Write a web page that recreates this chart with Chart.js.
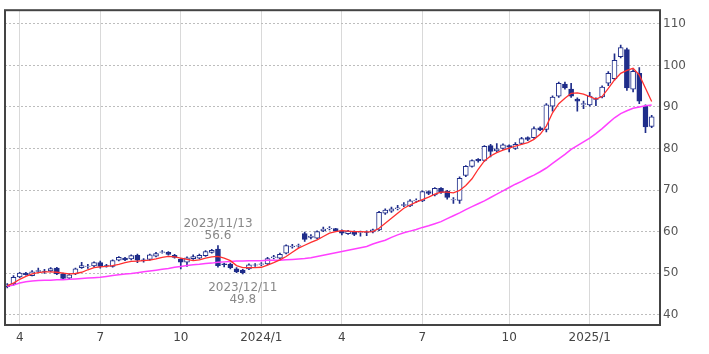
<!DOCTYPE html>
<html>
<head>
<meta charset="utf-8">
<script src="https://cdn.jsdelivr.net/npm/chart.js@4.4.1/dist/chart.umd.min.js"></script>
<style>
  html, body { margin: 0; padding: 0; background: #fff; }
  #wrap { width: 709px; height: 354px; }
</style>
</head>
<body>
<div id="wrap"><canvas id="c" width="709" height="354"></canvas></div>
<script>
//週足：2023/3/20 から毎週月曜
const START_WEEK = "2023-03-20";
const WEEKS = 105;

const opens = [
  46.7, 47.4, 49.1, 50.0, 49.4, 50.4, 50.5, 50.5, 51.2, 49.8,
  48.8, 49.8, 51.3, 51.6, 51.7, 52.5, 51.8, 51.6, 53.1, 53.6,
  53.4, 54.3, 53.2, 53.3, 54.1, 55.0, 55.0, 54.3, 53.3, 52.6,
  53.5, 53.6, 54.2, 55.0, 55.8, 52.2, 52.1, 51.0, 50.7, 51.0,
  51.9, 52.1, 52.2, 53.7, 53.6, 54.8, 56.3, 56.5, 59.5, 58.6,
  58.4, 60.2, 60.7, 60.7, 60.2, 59.5, 60.0, 59.8, 59.9, 59.9,
  60.4, 64.4, 64.9, 65.5, 66.3, 66.2, 67.4, 67.4, 69.6, 68.8,
  70.4, 69.7, 67.6, 67.5, 73.5, 75.7, 77.4, 77.1, 80.7, 79.4,
  80.0, 80.7, 80.0, 81.2, 82.6, 82.6, 85.0, 84.6, 90.2, 92.6,
  95.5, 94.3, 91.9, 90.6, 90.5, 92.0, 92.4, 95.7, 96.8, 102.1,
  103.8, 94.3, 98.1, 90.2, 85.3
];
const highs = [
  47.5, 49.4, 50.2, 50.2, 50.6, 51.2, 50.9, 51.3, 51.4, 50.0,
  49.8, 51.2, 52.6, 52.1, 52.7, 52.9, 52.1, 53.2, 54.0, 53.8,
  54.4, 54.6, 53.5, 54.6, 55.0, 55.4, 55.2, 54.5, 53.5, 53.9,
  54.4, 54.6, 55.4, 55.7, 56.6, 52.4, 52.4, 51.3, 50.9, 52.2,
  52.3, 52.5, 53.8, 54.3, 54.8, 56.8, 56.9, 57.0, 59.9, 59.3,
  60.2, 61.1, 61.2, 60.8, 60.4, 60.3, 60.2, 60.1, 60.2, 60.6,
  64.9, 65.5, 65.9, 66.3, 67.0, 67.7, 67.9, 69.8, 69.8, 70.6,
  70.6, 69.9, 68.2, 73.2, 75.9, 77.3, 77.6, 80.7, 81.0, 81.2,
  81.1, 80.9, 81.4, 82.7, 82.8, 85.2, 85.2, 90.8, 92.7, 96.0,
  96.0, 95.7, 92.2, 91.4, 93.5, 92.2, 95.1, 98.5, 102.8, 104.9,
  104.2, 99.0, 99.5, 90.5, 88.0
];
const lows = [
  46.4, 47.1, 48.9, 49.5, 49.3, 50.2, 49.9, 50.3, 49.6, 48.5,
  48.6, 49.6, 51.1, 51.1, 51.5, 51.2, 51.4, 51.4, 52.9, 53.0,
  53.2, 52.5, 52.6, 53.1, 53.9, 54.8, 54.3, 53.6, 51.0, 51.6,
  53.3, 53.4, 54.0, 54.8, 51.4, 51.5, 51.0, 50.1, 49.8, 50.8,
  51.6, 51.8, 52.0, 53.4, 53.4, 54.6, 56.0, 56.2, 57.6, 58.2,
  58.2, 60.0, 60.4, 60.0, 59.2, 59.3, 59.0, 58.9, 59.0, 59.7,
  60.2, 64.1, 64.6, 65.2, 66.0, 66.0, 67.0, 67.2, 68.9, 68.6,
  69.2, 67.8, 66.8, 66.8, 73.2, 75.5, 76.7, 76.9, 78.0, 79.2,
  79.8, 79.2, 79.8, 81.0, 81.9, 82.4, 84.3, 84.0, 89.0, 92.3,
  94.3, 92.3, 89.0, 89.6, 90.2, 90.3, 92.2, 95.1, 96.5, 101.8,
  94.0, 93.6, 90.8, 83.8, 85.0
];
const closes = [
  47.2, 49.0, 50.0, 49.6, 50.3, 50.6, 50.4, 51.1, 49.8, 48.7,
  49.6, 51.0, 51.8, 51.7, 52.5, 51.6, 51.7, 53.0, 53.8, 53.2,
  54.2, 53.1, 53.0, 54.4, 54.7, 55.1, 54.5, 53.8, 52.6, 53.7,
  54.0, 54.3, 55.2, 55.5, 51.8, 52.0, 51.3, 50.3, 50.1, 52.0,
  52.0, 52.2, 53.5, 53.9, 54.5, 56.6, 56.5, 56.6, 58.1, 58.9,
  60.0, 60.6, 60.8, 60.2, 59.6, 60.1, 59.3, 59.9, 59.8, 60.4,
  64.6, 65.2, 65.5, 65.7, 66.5, 67.4, 67.5, 69.6, 69.2, 70.4,
  69.4, 68.2, 67.7, 72.8, 75.7, 77.1, 77.0, 80.5, 79.3, 79.9,
  80.9, 80.3, 81.0, 82.4, 82.2, 84.8, 84.5, 90.5, 92.4, 95.7,
  94.6, 92.6, 91.4, 90.8, 92.6, 91.8, 94.8, 98.1, 101.2, 104.3,
  94.6, 98.6, 91.4, 85.2, 87.6
];

// 移動平均（赤：短期、ピンク：長期）
const maShort = [
  47.0, 47.6, 48.5, 49.2, 49.8, 50.1, 50.3, 50.3, 50.2, 50.0,
  49.8, 49.9, 50.2, 50.8, 51.3, 51.5, 51.6, 51.8, 52.1, 52.5,
  52.8, 52.9, 53.0, 53.1, 53.4, 53.8, 54.0, 53.9, 53.6, 53.3,
  53.0, 53.2, 53.6, 53.9, 54.0, 53.6, 53.0, 51.8, 51.3, 51.3,
  51.3, 51.4, 51.9, 52.5, 53.2, 54.0, 55.0, 56.0, 56.7, 57.4,
  58.0, 58.8, 59.6, 60.0, 60.2, 60.1, 60.0, 60.0, 59.9, 60.0,
  60.8, 62.0, 63.2, 64.4, 65.6, 66.4, 67.1, 67.7, 68.3, 69.0,
  69.5, 69.5, 69.3, 69.9, 71.1, 72.7, 75.0, 77.0, 78.2, 79.0,
  79.6, 80.1, 80.6, 81.0, 81.4, 82.2, 83.4, 85.4, 88.6, 90.8,
  92.1, 93.3, 93.4, 93.1, 92.5, 91.9, 92.5, 94.5, 96.5, 98.1,
  98.8, 99.3, 97.7, 94.5, 91.3
];
const maLong = [
  46.8, 47.1, 47.6, 47.9, 48.1, 48.2, 48.3, 48.3, 48.4, 48.4,
  48.5, 48.6, 48.7, 48.8, 48.9, 49.0, 49.2, 49.4, 49.6, 49.8,
  49.9, 50.1, 50.3, 50.5, 50.7, 50.9, 51.1, 51.4, 51.6, 51.8,
  52.0, 52.1, 52.3, 52.4, 52.6, 52.7, 52.8, 52.9, 52.9, 53.0,
  53.0, 53.0, 53.1, 53.1, 53.1, 53.2, 53.3, 53.4, 53.5, 53.7,
  54.0, 54.3, 54.6, 54.9, 55.2, 55.5, 55.8, 56.1, 56.4, 57.0,
  57.5, 57.9, 58.6, 59.2, 59.7, 60.1, 60.5, 61.0, 61.4, 61.9,
  62.4, 63.1, 63.8, 64.5, 65.3, 66.0, 66.7, 67.4, 68.2, 69.0,
  69.8, 70.6, 71.4, 72.1, 72.9, 73.6, 74.4, 75.3, 76.4, 77.5,
  78.6, 79.8, 80.7, 81.6, 82.5, 83.6, 84.8, 86.1, 87.4, 88.4,
  89.1, 89.7, 90.0, 90.3, 90.5
];

// x軸：各四半期の最初の週
const quarterTicks = ["2023-04-03", "2023-07-03", "2023-10-02", "2024-01-01",
                      "2024-04-01", "2024-07-01", "2024-10-07", "2025-01-06"];
const quarterLabels = ["4", "7", "10", "2024/1", "4", "7", "10", "2025/1"];
const yTicks = [40, 50, 60, 70, 80, 90, 100, 110];

// 高値・安値の注記
const notes = [
  { date: "2023-11-13", value: 56.6, text: "56.6", label: "2023/11/13", above: true },
  { date: "2023-12-11", value: 49.8, text: "49.8", label: "2023/12/11", above: false },
];

const NAVY = "#1f2d8a";

function dayNum(s) {
  const [y, m, d] = s.split("-").map(Number);
  return Date.UTC(y, m - 1, d) / 86400000;
}
const day0 = dayNum(START_WEEK);
const weekX = Array.from({ length: WEEKS }, (_, i) => day0 + i * 7);

const wicks = weekX.map((x, i) => ({ x, y: [lows[i], highs[i]] }));
const bodies = weekX.map((x, i) => ({ x, y: [opens[i], closes[i]] }));
const up = opens.map((o, i) => closes[i] >= o);

const framePlugin = {
  id: "frame",
  afterDraw(chart) {
    const { ctx, chartArea: a } = chart;
    ctx.save();
    ctx.strokeStyle = "#444";
    ctx.lineWidth = 2;
    ctx.strokeRect(a.left, a.top, a.right - a.left, a.bottom - a.top);
    ctx.restore();
  }
};

const notePlugin = {
  id: "notes",
  afterDatasetsDraw(chart) {
    const { ctx, scales } = chart;
    ctx.save();
    ctx.fillStyle = "#888";
    ctx.font = '12px "DejaVu Sans"';
    ctx.textAlign = "center";
    ctx.textBaseline = "middle";
    notes.forEach(n => {
      const px = scales.x.getPixelForValue(dayNum(n.date));
      const py = scales.y.getPixelForValue(n.value);
      if (n.above) {
        ctx.fillText(n.label, px, py - 22);
        ctx.fillText(n.text, px, py - 10);
      } else {
        ctx.fillText(n.label, px, py + 14);
        ctx.fillText(n.text, px, py + 26);
      }
    });
    ctx.restore();
  }
};

new Chart(document.getElementById("c"), {
  type: "bar",
  data: {
    datasets: [
      { type: "line", data: weekX.map((x, i) => ({ x, y: maShort[i] })),
        borderColor: "#ff3030", borderWidth: 1.3, pointRadius: 0, order: 0 },
      { type: "line", data: weekX.map((x, i) => ({ x, y: maLong[i] })),
        borderColor: "#ff40ff", borderWidth: 1.5, pointRadius: 0, order: 0 },
      { data: bodies, grouped: false, barThickness: 5, borderWidth: 1,
        borderSkipped: false, borderColor: NAVY,
        backgroundColor: up.map(u => u ? "#ffffff" : NAVY), order: 1 },
      { data: wicks, grouped: false, barThickness: 1, borderWidth: 0,
        backgroundColor: NAVY, order: 2 },
    ]
  },
  options: {
    responsive: false,
    animation: false,
    devicePixelRatio: 1,
    layout: { padding: { left: 5, top: 5, right: 0, bottom: 0 } },
    plugins: { legend: { display: false }, tooltip: { enabled: false } },
    scales: {
      x: {
        type: "linear",
        offset: false,
        min: day0 - 2.6,
        max: day0 - 2.6 + 740,
        afterBuildTicks: s => { s.ticks = quarterTicks.map(d => ({ value: dayNum(d) })); },
        afterFit: s => { s.height = 29; },
        grid: { color: "#d9d9d9", drawTicks: false, offset: false },
        border: { display: false },
        ticks: {
          autoSkip: false, maxRotation: 0, padding: 6, color: "#444",
          font: { family: "DejaVu Sans", size: 12 },
          callback: (v, i) => quarterLabels[i]
        }
      },
      y: {
        type: "linear",
        position: "right",
        min: 37.5,
        max: 113.3,
        afterBuildTicks: s => { s.ticks = yTicks.map(v => ({ value: v })); },
        afterFit: s => { s.width = 49; },
        grid: { color: "#bdbdbd", drawTicks: false },
        border: { display: false, dash: [2, 2] },
        ticks: {
          padding: 3, color: "#555",
          font: { family: "DejaVu Sans", size: 12 }
        }
      }
    }
  },
  plugins: [framePlugin, notePlugin]
});
</script>
</body>
</html>
